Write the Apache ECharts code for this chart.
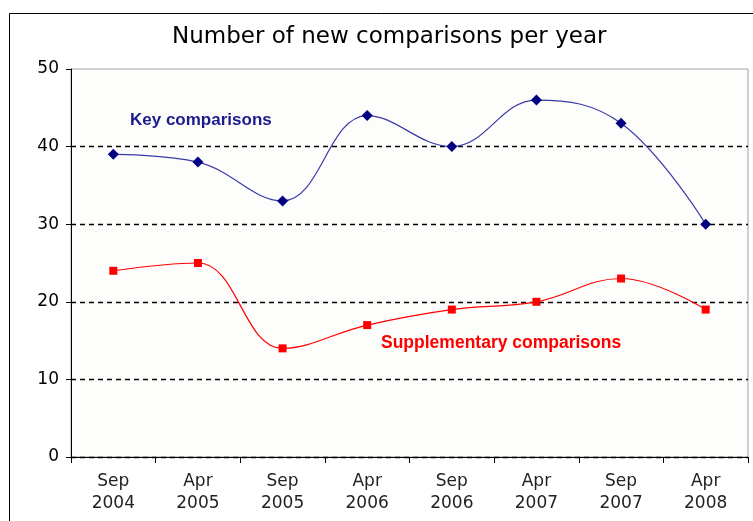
<!DOCTYPE html>
<html><head><meta charset="utf-8">
<script src="https://cdn.jsdelivr.net/npm/echarts@6/dist/echarts.min.js"></script>
<style>html,body{margin:0;padding:0;background:#fff}#c{width:753px;height:521px}</style>
</head><body><div id="c"></div>
<script>
const categories = ['Sep\n2004','Apr\n2005','Sep\n2005','Apr\n2006','Sep\n2006','Apr\n2007','Sep\n2007','Apr\n2008'];
const keyComparisons = [39, 38, 33, 44, 40, 46, 43, 30];
const supplementaryComparisons = [24, 25, 14, 17, 19, 20, 23, 19];
const yTicks = {min: 0, max: 50, interval: 10};
const titleText = 'Number of new comparisons per year';
const keyLabel = 'Key comparisons';
const suppLabel = 'Supplementary comparisons';

const chart = echarts.init(document.getElementById('c'));
chart.setOption({
  backgroundColor: '#ffffff',
  animation: false,
  title: {
    text: titleText, left: 167, top: 21,
    textStyle: {fontFamily: 'DejaVu Sans', fontSize: 23, fontWeight: 'normal', color: '#000'}
  },
  grid: {left: 71, right: 5, top: 69, bottom: 64, show: true, borderColor: '#a0a0a0', borderWidth: 1, backgroundColor: '#fdfdfb'},
  xAxis: {
    type: 'category', data: categories, boundaryGap: true,
    axisLine: {lineStyle: {color: '#000', width: 1}},
    axisTick: {show: true, length: 6, lineStyle: {color: '#000'}},
    axisLabel: {fontFamily: 'DejaVu Sans', fontSize: 17, color: '#222', lineHeight: 22, margin: 14}
  },
  yAxis: {
    type: 'value', min: yTicks.min, max: yTicks.max, interval: yTicks.interval,
    axisLine: {show: true, lineStyle: {color: '#000', width: 1}},
    axisTick: {show: true, length: 5, lineStyle: {color: '#000'}},
    axisLabel: {fontFamily: 'DejaVu Sans', fontSize: 17, color: '#000', margin: 12},
    splitLine: {show: true, lineStyle: {type: [5, 4], width: 1.3, color: ['#000','#000','#000','#000','#000','rgba(0,0,0,0)']}}
  },
  series: [
    {
      type: 'line', name: keyLabel, data: keyComparisons, smooth: 0.4,
      symbol: 'diamond', symbolSize: 11,
      itemStyle: {color: '#000080'},
      lineStyle: {color: '#3a3aa8', width: 1.2}
    },
    {
      type: 'line', name: suppLabel, data: supplementaryComparisons, smooth: 0.4,
      symbol: 'rect', symbolSize: 8,
      itemStyle: {color: '#ff0000'},
      lineStyle: {color: '#ff0000', width: 1.2}
    }
  ],
  graphic: [
    {type: 'rect', left: 7, top: 11, z: 100, silent: true,
     shape: {width: 800, height: 600}, style: {fill: 'none', stroke: '#000', lineWidth: 1}},
    {type: 'text', left: 130, top: 112, z: 100,
     style: {text: keyLabel, fontFamily: 'Liberation Sans', fontWeight: 'bold', fontSize: 17, fill: '#1a1a8c'}},
    {type: 'text', left: 381, top: 334, z: 100,
     style: {text: suppLabel, fontFamily: 'Liberation Sans', fontWeight: 'bold', fontSize: 17.5, fill: '#ff0000'}}
  ]
});
</script></body></html>
